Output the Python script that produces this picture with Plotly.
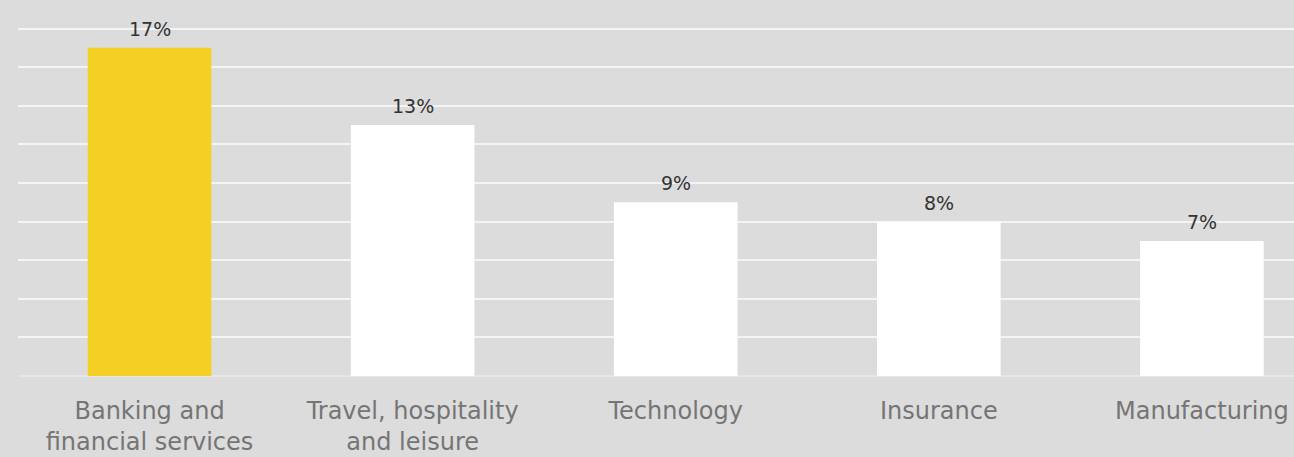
import plotly.graph_objects as go

categories = ["Banking and<br>financial services", "Travel, hospitality<br>and leisure",
              "Technology", "Insurance", "Manufacturing"]
values = [17, 13, 9, 8, 7]
labels = ["17%", "13%", "9%", "8%", "7%"]
colors = ["#F4D024", "#FFFFFF", "#FFFFFF", "#FFFFFF", "#FFFFFF"]

x = list(range(len(categories)))

fig = go.Figure()
fig.add_trace(go.Bar(x=x, y=values, marker=dict(color=colors, line=dict(width=0)),
                     width=0.47, hoverinfo="skip"))

for xi, v, t in zip(x, values, labels):
    fig.add_annotation(x=xi, y=v, text=t, showarrow=False, yanchor="bottom", yshift=6,
                       font=dict(family="DejaVu Sans", size=19, color="#333333"))

fig.update_layout(
    width=1294, height=457,
    margin=dict(l=18, r=0, t=0, b=81),
    paper_bgcolor="#DCDCDC", plot_bgcolor="#DCDCDC",
    showlegend=False,
    bargap=0.53,
)
fig.update_xaxes(
    tickmode="array", tickvals=x, ticktext=categories,
    range=[-0.5, 4.35], showgrid=False, zeroline=False, showline=False,
    ticks="", ticklabelstandoff=18,
    tickfont=dict(family="DejaVu Sans", size=24, color="#757575"),
)
fig.update_yaxes(
    range=[0, 19.48], dtick=2, showticklabels=False, showgrid=True,
    gridcolor="#F4F4F4", gridwidth=2, zeroline=True, zerolinecolor="#E6E6E6",
    zerolinewidth=2, showline=False,
)

fig.write_html("out.html", config={"displayModeBar": False},
               post_script="document.body.style.margin='0';document.body.style.padding='0';"
                           "document.body.style.background='#DCDCDC';")
